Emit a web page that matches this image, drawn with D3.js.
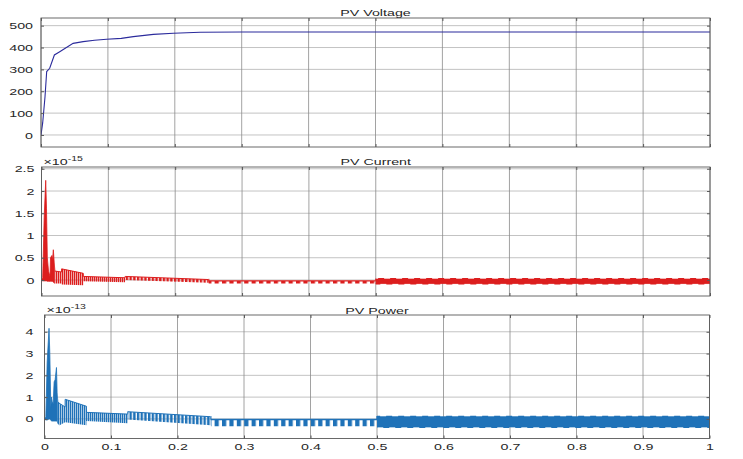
<!DOCTYPE html>
<html>
<head>
<meta charset="utf-8">
<script src="https://cdn.jsdelivr.net/npm/d3@7"></script>
<style>
  body { margin: 0; background: #fff; }
</style>
</head>
<body>
<svg id="chart" width="743" height="459"></svg>
<script>
// tick values / labels
var timeTicks = [0, 0.1, 0.2, 0.3, 0.4, 0.5, 0.6, 0.7, 0.8, 0.9, 1];
var timeLabels = ["0", "0.1", "0.2", "0.3", "0.4", "0.5", "0.6", "0.7", "0.8", "0.9", "1"];
var voltTicks = [0, 100, 200, 300, 400, 500];
var curTicks = [0, 0.5, 1, 1.5, 2, 2.5];
var curLabels = ["0", "0.5", "1", "1.5", "2", "2.5"];
var powTicks = [0, 1, 2, 3, 4];

// PV voltage (V)
var voltT = [0, 0.0025, 0.006, 0.0085, 0.013, 0.02, 0.028, 0.038, 0.048, 0.063, 0.08, 0.098, 0.12, 0.138, 0.168, 0.198, 0.238, 0.3, 0.5, 0.7, 1.0];
var voltV = [0, 55, 175, 290, 305, 366, 381, 400, 419, 427, 433, 438, 442, 450, 460, 465, 470, 471, 471, 471, 471];

// PV current (x1e-15): upper / lower envelope of the chattering signal
var curT  = [0, 0.0018, 0.004, 0.0063, 0.0075, 0.0087, 0.0105, 0.0127, 0.0135, 0.0155, 0.0165, 0.0177, 0.019, 0.02, 0.03, 0.0301, 0.0625, 0.0626, 0.125, 0.1251, 0.25, 0.2501, 0.5, 0.5001, 1];
var curHi = [0, 0.05, 1.4, 2.24, 1.6, 0.5, 0.2, 0.08, 0.5, 0.55, 0.45, 0.68, 0.4, 0.2, 0.18, 0.25, 0.15, 0.08, 0.05, 0.08, 0.01, -0.02, -0.02, 0.02, 0.02];
var curLo = [0, -0.02, -0.02, -0.02, -0.02, -0.03, -0.03, -0.03, -0.03, -0.03, -0.03, -0.05, -0.06, -0.08, -0.08, -0.1, -0.12, -0.03, -0.05, 0, -0.06, -0.08, -0.08, -0.08, -0.08];

// PV power (x1e-13)
var powT  = [0, 0.002, 0.004, 0.0068, 0.008, 0.0095, 0.0105, 0.0115, 0.013, 0.0145, 0.016, 0.018, 0.019, 0.02, 0.022, 0.031, 0.0311, 0.063, 0.0631, 0.125, 0.1251, 0.25, 0.2501, 0.5, 0.5001, 1];
var powHi = [0, 0.1, 2.6, 4.16, 3.0, 0.5, 1.0, 0.8, 0.7, 1.7, 1.8, 2.36, 1.2, 0.8, 0.72, 0.55, 0.9, 0.58, 0.3, 0.22, 0.33, 0.1, -0.03, -0.03, 0.1, 0.1];
var powLo = [0, -0.05, -0.05, 0, 0, -0.05, -0.1, -0.1, -0.1, -0.1, -0.1, -0.1, -0.1, -0.2, -0.3, -0.15, -0.15, -0.29, -0.1, -0.2, -0.03, -0.29, -0.34, -0.34, -0.37, -0.37];

var FONT = "'Liberation Sans', Arial, sans-serif";
var STRETCH = 1.5;   // the picture is stretched horizontally

// how the chattering band looks in each time range
var bandStyle = [
    { from: 0, to: 0.02, kind: "solid" },
    { from: 0.02, to: 0.125, kind: "comb" },
    { from: 0.125, to: 0.25, kind: "combWide" },
    { from: 0.25, to: 0.5, kind: "blocks" },
    { from: 0.5, to: 1, kind: "solid" }
];

var svg = d3.select("#chart");
var defs = svg.append("defs");
var clipCount = 0;

function zip(t, a, b) {
    return t.map(function (d, i) { return { t: d, hi: a[i], lo: b ? b[i] : null }; });
}

function makePatterns(name, color) {
    var kinds = { comb: [2, 1.4], combWide: [3.7, 2.4], blocks: [7.4, 4.2] };
    Object.keys(kinds).forEach(function (k) {
        var p = defs.append("pattern")
            .attr("id", k + "-" + name)
            .attr("patternUnits", "userSpaceOnUse")
            .attr("width", kinds[k][0])
            .attr("height", 20);
        p.append("rect")
            .attr("width", kinds[k][1])
            .attr("height", 20)
            .attr("fill", color);
    });
}

function panel(opt) {
    var x = d3.scaleLinear().domain([0, 1]).range([opt.left, opt.right]);
    var y = d3.scaleLinear().domain(opt.yDomain).range([opt.bottom, opt.top]);
    var g = svg.append("g");

    // grid
    g.append("g").selectAll("line.h")
        .data(opt.yTicks).enter().append("line")
        .attr("x1", opt.left).attr("x2", opt.right)
        .attr("y1", function (d) { return y(d); })
        .attr("y2", function (d) { return y(d); })
        .attr("stroke", "#b4b4b4").attr("stroke-width", 0.8);
    g.append("g").selectAll("line.v")
        .data(timeTicks).enter().append("line")
        .attr("x1", function (d) { return x(d); })
        .attr("x2", function (d) { return x(d); })
        .attr("y1", opt.top).attr("y2", opt.bottom)
        .attr("stroke", "#8a8a8a").attr("stroke-width", 0.8);

    // clip to the plot box
    var clipId = "clip" + (clipCount++);
    defs.append("clipPath").attr("id", clipId).append("rect")
        .attr("x", opt.left).attr("y", opt.top)
        .attr("width", opt.right - opt.left).attr("height", opt.bottom - opt.top);
    var plot = g.append("g").attr("clip-path", "url(#" + clipId + ")");

    opt.draw(plot, x, y);

    // box
    g.append("rect")
        .attr("x", opt.left).attr("y", opt.top)
        .attr("width", opt.right - opt.left).attr("height", opt.bottom - opt.top)
        .attr("fill", "none").attr("stroke", "#5a5a5a").attr("stroke-width", 0.9);

    // axes, ticks inside
    var left = g.append("g")
        .attr("transform", "translate(" + opt.left + ",0)")
        .call(d3.axisLeft(y).tickValues(opt.yTicks).tickSize(-3).tickPadding(0)
            .tickFormat(function (d, i) { return opt.yLabels ? opt.yLabels[i] : d; }));
    var right = g.append("g")
        .attr("transform", "translate(" + opt.right + ",0)")
        .call(d3.axisRight(y).tickValues(opt.yTicks).tickSize(-3).tickFormat(""));
    var bottom = g.append("g")
        .attr("transform", "translate(0," + opt.bottom + ")")
        .call(d3.axisBottom(x).tickValues(timeTicks).tickSize(-3).tickPadding(5)
            .tickFormat(function (d, i) { return opt.xLabels ? timeLabels[i] : ""; }));
    var top = g.append("g")
        .attr("transform", "translate(0," + opt.top + ")")
        .call(d3.axisTop(x).tickValues(timeTicks).tickSize(-3).tickFormat(""));

    [left, right, bottom, top].forEach(function (a) {
        a.select(".domain").remove();
        a.selectAll(".tick line").attr("stroke", "#5a5a5a");
        a.attr("font-family", FONT).attr("font-size", 9.5);
        a.selectAll("text").attr("fill", "#262626");
    });
    left.selectAll("text")
        .attr("x", -opt.labelPad / STRETCH)
        .attr("transform", "scale(" + STRETCH + ",1)");
    bottom.selectAll("text")
        .attr("transform", "scale(" + STRETCH + ",1)");

    // title
    var cx = (opt.left + opt.right) / 2;
    g.append("text")
        .attr("transform", "translate(" + cx + "," + opt.titleY + ") scale(" + STRETCH + ",1)")
        .attr("text-anchor", "middle")
        .attr("font-family", FONT).attr("font-size", 9.5)
        .attr("fill", "#262626")
        .text(opt.title);

    // exponent
    if (opt.exponent) {
        var ex = g.append("text")
            .attr("transform", "translate(" + (opt.left + 2) + "," + (opt.top - 2) + ") scale(" + STRETCH + ",1)")
            .attr("font-family", FONT).attr("font-size", 9.5)
            .attr("fill", "#262626");
        ex.append("tspan").text("\u00d710");
        ex.append("tspan").attr("font-size", 7).attr("dy", -4).text(opt.exponent);
    }
}

function drawBand(plot, x, y, data, color, name) {
    makePatterns(name, color);
    var area = d3.area()
        .x(function (d) { return x(d.t); })
        .y0(function (d) { return y(d.lo); })
        .y1(function (d) { return y(d.hi); });
    var top = d3.line()
        .x(function (d) { return x(d.t); })
        .y(function (d) { return y(d.hi); });
    var low = d3.line()
        .x(function (d) { return x(d.t); })
        .y(function (d) { return y(d.lo); });

    bandStyle.forEach(function (s, i) {
        var id = "seg-" + name + i;
        var x0 = x(s.from), x1 = x(s.to);
        defs.append("clipPath").attr("id", id).append("rect")
            .attr("x", x0 - (i === 0 ? 2 : 0)).attr("y", 0)
            .attr("width", x1 - x0 + (i === 0 ? 2 : 0)).attr("height", 459);
        var seg = plot.append("g").attr("clip-path", "url(#" + id + ")");
        var fill = s.kind === "solid" ? color : "url(#" + s.kind + "-" + name + ")";
        seg.append("path").datum(data)
            .attr("d", area)
            .attr("fill", fill)
            .attr("stroke", s.kind === "solid" ? color : "none")
            .attr("stroke-width", 0.8);
        if (s.kind !== "solid") {
            seg.append("path").datum(data)
                .attr("d", top)
                .attr("fill", "none")
                .attr("stroke", color)
                .attr("stroke-width", s.kind === "blocks" ? 1.4 : 1);
        }
        if (s.kind === "solid" && s.from >= 0.5) {
            seg.append("path").datum(data)
                .attr("d", top)
                .attr("fill", "none").attr("stroke", color)
                .attr("stroke-width", 2).attr("stroke-dasharray", "6,6");
            seg.append("path").datum(data)
                .attr("d", low)
                .attr("fill", "none").attr("stroke", color)
                .attr("stroke-width", 2).attr("stroke-dasharray", "6,6")
                .attr("stroke-dashoffset", 6);
        }
    });
}

// PV Voltage
panel({
    left: 41, right: 710, top: 18, bottom: 147,
    yDomain: [-55, 535], yTicks: voltTicks, labelPad: 8,
    title: "PV Voltage", titleY: 16,
    draw: function (plot, x, y) {
        plot.append("path")
            .datum(zip(voltT, voltV))
            .attr("fill", "none")
            .attr("stroke", "#2b2b9c")
            .attr("stroke-width", 1.1)
            .attr("d", d3.line()
                .x(function (d) { return x(d.t); })
                .y(function (d) { return y(d.hi); }));
    }
});

// PV Current
panel({
    left: 41.5, right: 710, top: 167, bottom: 296,
    yDomain: [-0.36, 2.54], yTicks: curTicks, yLabels: curLabels, labelPad: 7,
    title: "PV Current", titleY: 164.5, exponent: "-15",
    draw: function (plot, x, y) {
        drawBand(plot, x, y, zip(curT, curHi, curLo), "#dc1e1e", "cur");
    }
});

// PV Power
panel({
    left: 44.5, right: 709.5, top: 315, bottom: 438.5,
    yDomain: [-0.9, 4.77], yTicks: powTicks, labelPad: 11,
    title: "PV Power", titleY: 313.5, exponent: "-13", xLabels: true,
    draw: function (plot, x, y) {
        drawBand(plot, x, y, zip(powT, powHi, powLo), "#1f72b8", "pow");
    }
});
</script>
</body>
</html>
